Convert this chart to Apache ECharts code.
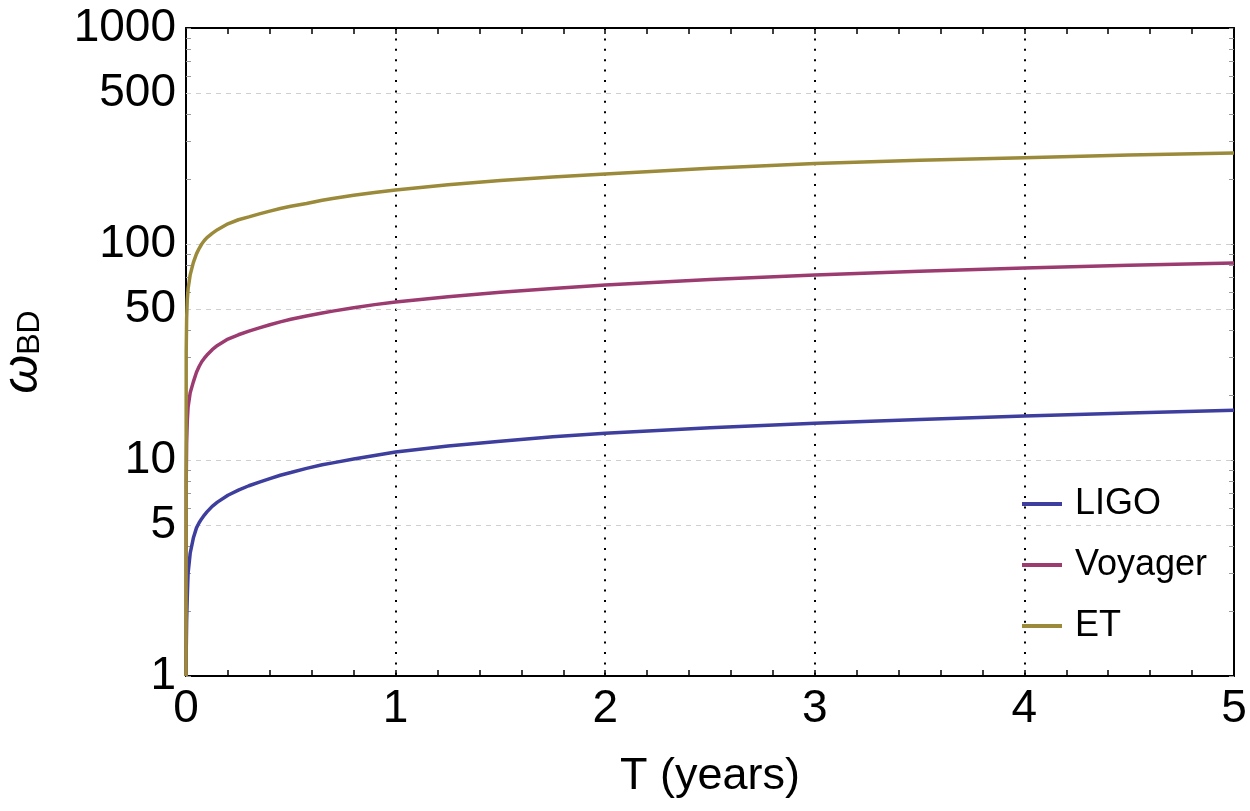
<!DOCTYPE html>
<html><head><meta charset="utf-8">
<script src="https://cdn.jsdelivr.net/npm/echarts@6/dist/echarts.min.js"></script>
<style>html,body{margin:0;padding:0;background:#fff}#c{width:1250px;height:811px}</style>
</head><body><div id="c"></div>
<script>
// T (years)
const T       = [0, 0.001, 0.003, 0.006, 0.01, 0.02, 0.035, 0.05, 0.0625, 0.075, 0.0875, 0.1, 0.125, 0.15, 0.2, 0.25, 0.3, 0.35, 0.4, 0.45, 0.5, 0.575, 0.65, 0.7, 0.8, 0.9, 1.0, 1.25, 1.5, 1.75, 2.0, 2.5, 3.0, 3.5, 4.0, 4.5, 5.0];
const ligo    = [1, 1.3, 1.8, 2.3, 3.0, 3.7, 4.35, 4.85, 5.12, 5.35, 5.56, 5.75, 6.1, 6.38, 6.87, 7.25, 7.6, 7.9, 8.2, 8.5, 8.75, 9.15, 9.5, 9.7, 10.1, 10.5, 10.9, 11.6, 12.2, 12.8, 13.3, 14.1, 14.8, 15.4, 16.0, 16.5, 17.0];
const voyager = [1, 8, 12, 15, 17.6, 20.5, 23, 25.5, 27.1, 28.5, 29.6, 30.6, 32.4, 33.9, 36.3, 38, 39.5, 40.9, 42.3, 43.6, 44.8, 46.4, 47.9, 48.9, 50.7, 52.4, 53.9, 57, 59.8, 62.3, 64.6, 68.5, 71.8, 74.8, 77.4, 79.7, 81.7];
const et      = [1, 32, 45, 55, 62, 72, 82, 90, 95.3, 100, 103.8, 107, 112, 116.5, 124, 129.5, 133.5, 137.8, 142, 146, 149.5, 154, 159.5, 162.5, 168, 173, 178, 188, 197, 204, 211, 224, 236, 244, 251, 258, 264];
const seriesNames = ['LIGO', 'Voyager', 'ET'];
const xTickLabels = [0, 1, 2, 3, 4, 5];
const yLabelValues = [1, 5, 10, 50, 100, 500, 1000];
const yTickValues = [1,2,3,4,5,6,7,8,9,10,20,30,40,50,60,70,80,90,100,200,300,400,500,600,700,800,900,1000];
const yGridValues = [5, 10, 50, 100, 500];

const colors = ['#3e3e9e', '#9c3b70', '#9a8a3a'];
const FONT = 'Liberation Sans, Arial, sans-serif';
const pairs = arr => T.map((t, i) => [t, arr[i]]);

const chart = echarts.init(document.getElementById('c'), null, {renderer: 'canvas'});
const baseX = {
  type: 'value', min: 0, max: 5, interval: 1,
  axisLine: {show: true, onZero: false, lineStyle: {color: '#000', width: 2}},
  axisTick: {show: true, inside: true, length: 6, lineStyle: {color: '#000', width: 1.5}},
  minorTick: {show: true, splitNumber: 5, length: 6, lineStyle: {color: '#000', width: 1.5}},
  splitLine: {show: false}, minorSplitLine: {show: false}
};
const baseY = {
  type: 'log', logBase: 10, min: 1, max: 1000,
  axisLine: {show: true, onZero: false, lineStyle: {color: '#000', width: 2}},
  axisTick: {show: true, inside: true, length: 5, customValues: yTickValues, lineStyle: {color: '#999', width: 1}},
  minorTick: {show: false},
  splitLine: {show: false}
};
const lineSeries = (i, data, extra) => Object.assign({
  name: seriesNames[i], type: 'line', data: pairs(data), symbol: 'none', smooth: false,
  lineStyle: {width: 3.5, color: colors[i]}, z: 5
}, extra || {});
const option = {
  backgroundColor: '#fff',
  animation: false,
  textStyle: {fontFamily: FONT},
  grid: {left: 186, top: 28, right: 16, bottom: 135, containLabel: false, outerBoundsMode: 'none'},
  color: colors,
  legend: {
    orient: 'vertical', left: 1015, top: 481,
    itemWidth: 40, itemHeight: 36, itemGap: 25,
    data: seriesNames,
    textStyle: {fontSize: 36, color: '#000', fontFamily: FONT, padding: [0, 0, 0, 8]},
    itemStyle: {opacity: 0},
    lineStyle: {width: 4}
  },
  xAxis: [
    Object.assign({}, baseX, {
      position: 'bottom',
      name: 'T (years)', nameLocation: 'middle', nameGap: 78,
      nameTextStyle: {fontSize: 45, color: '#000', fontFamily: FONT},
      axisLabel: {show: true, fontSize: 46, color: '#000', margin: 10, fontFamily: FONT,
        formatter: v => xTickLabels.includes(v) ? String(v) : ''},
      splitLine: {show: true, lineStyle: {color: '#000', width: 2, type: [2, 8.4]}}
    }),
    Object.assign({}, baseX, {position: 'top', axisLabel: {show: false}})
  ],
  yAxis: [
    Object.assign({}, baseY, {
      position: 'left',
      name: '{w|ω}{s|BD}', nameLocation: 'middle', nameGap: 138, nameRotate: 90,
      nameTextStyle: {
        rich: {
          w: {fontSize: 50, fontStyle: 'italic', color: '#000', fontFamily: FONT},
          s: {fontSize: 32, color: '#000', fontFamily: FONT, padding: [14, 0, 0, 0]}
        }
      },
      axisLabel: {show: true, fontSize: 46, color: '#000', margin: 10, fontFamily: FONT,
        customValues: yLabelValues, formatter: v => String(Math.round(v))}
    }),
    Object.assign({}, baseY, {position: 'right', axisLabel: {show: false}})
  ],
  series: [
    lineSeries(0, ligo, {
      markLine: {
        silent: true, symbol: 'none', label: {show: false}, animation: false,
        lineStyle: {color: '#cfcfcf', width: 1, type: [5, 5]},
        data: yGridValues.map(v => ({yAxis: v}))
      }
    }),
    lineSeries(1, voyager),
    lineSeries(2, et)
  ]
};
chart.setOption(option);
</script>
</body></html>
